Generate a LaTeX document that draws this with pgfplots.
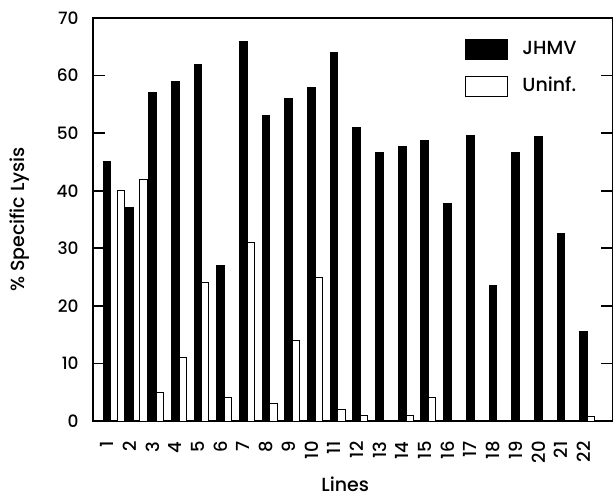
\documentclass[border=0pt]{standalone}
\usepackage{fontspec}
\setmainfont{Poppins}[UprightFont={* Medium}]
\usepackage{pgfplots}
\pgfplotsset{compat=1.18}

\begin{document}
\begin{tikzpicture}
\begin{axis}[
  name=ax,
  scale only axis,
  width=260pt,
  height=201.5pt,
  xmin=0.38, xmax=23.29,
  ymin=0, ymax=70,
  ytick={0,10,...,70},
  xtick={1,...,22},
  axis line style={black, line width=0.9pt},
  major tick length=6pt,
  tick style={black, line width=0.9pt},
  xtick style={draw=none},
  tick align=inside,
  /pgf/number format/assume math mode=true,
  yticklabel style={font=\fontsize{8.5}{9}\selectfont, inner sep=0pt},
  yticklabel shift=7pt,
  xticklabel style={font=\fontsize{9}{10}\selectfont, rotate=90, anchor=east, inner sep=0pt},
  xticklabel shift=10pt,
  xlabel={Lines},
  xlabel style={font=\fontsize{9.5}{11}\selectfont, at={(axis description cs:0.485,-0.175)}, anchor=base},
  ylabel={\% Specific Lysis},
  ylabel style={font=\fontsize{9.5}{11}\selectfont, at={(axis description cs:-0.1308,0.5)}, anchor=base},
  legend image code/.code={\draw[#1, line width=0.5pt] (0pt,-5pt) rectangle (21pt,5pt);},
  legend style={at={(0.7154,0.95)}, anchor=north west, draw=none, fill=none,
    inner sep=0pt, row sep=8pt, font=\fontsize{9.5}{11}\selectfont,
    nodes={inner sep=0pt},
    /tikz/every odd column/.append style={column sep=7pt}},
  legend cell align=left,
]
\addplot[ybar, bar shift=0pt, bar width=0.34, fill=black, draw=black, line width=0.5pt] coordinates {
  (1,45) (2,37) (3,57) (4,59) (5,62) (6,27) (7,66) (8,53) (9,56) (10,58) (11,64)
  (12,51) (13,46.7) (14,47.7) (15,48.7) (16,37.8) (17,49.6) (18,23.5) (19,46.6)
  (20,49.5) (21,32.6) (22,15.5)};
\addlegendentry{JHMV}
\addplot[ybar, bar shift=0pt, bar width=0.32, fill=white, draw=black, line width=0.5pt] coordinates {
  (1.62,40) (2.6,42) (3.33,5) (4.33,11) (5.33,24) (6.33,4) (7.33,31) (8.33,3)
  (9.33,14) (10.33,25) (11.33,2) (12.33,1) (14.33,1) (15.33,4) (22.33,0.8)};
\addlegendentry{Uninf.}
\end{axis}
\pgfresetboundingbox
\path[use as bounding box] (ax.south west) +(-46.5pt,-37.5pt) rectangle ([shift={(0pt,9pt)}]ax.north east);
\end{tikzpicture}
\end{document}
